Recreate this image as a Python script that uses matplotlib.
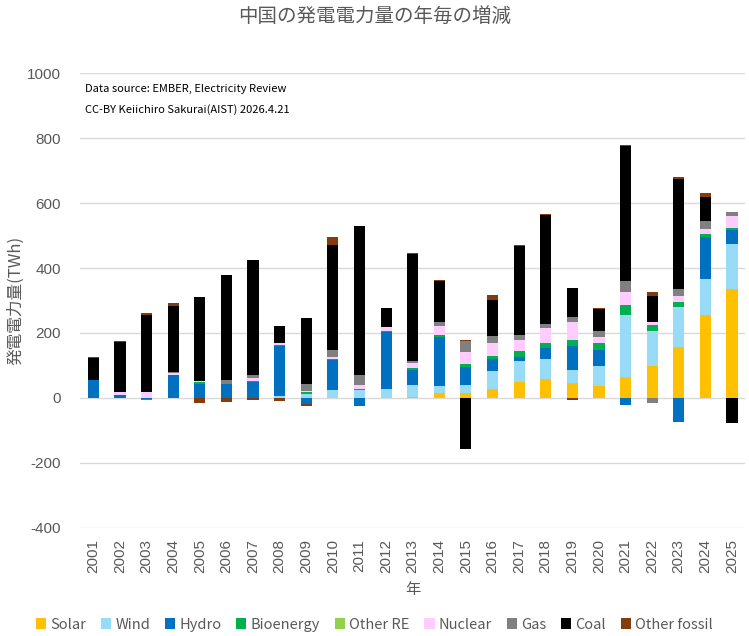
import matplotlib
matplotlib.use("Agg")
import matplotlib.pyplot as plt
import numpy as np

plt.rcParams['font.family'] = ['Noto Sans CJK JP', 'DejaVu Sans']
plt.rcParams['axes.unicode_minus'] = False

years = [str(y) for y in range(2001, 2026)]

# year-on-year change in generation (TWh)
solar     = [0, 0, 0, 0, 0, 0, 0, 0, 0, 0, 0, 0, 4, 16, 15, 28, 48, 58, 46, 37, 65, 98, 157, 255, 335]
wind      = [0, 0, 0, 0, 0, 0, 0, 7, 13, 23, 26, 29, 37, 22, 25, 55, 66, 62, 40, 62, 191, 108, 123, 111, 138]
hydro     = [56, 10, -4, 72, 44, 42, 50, 153, -20, 95, -24, 175, 46, 151, 56, 37, 12, 34, 74, 49, -22, 0, -74, 129, 43]
bioenergy = [0, 0, -3, 0, 4, 2, 3, 4, 6, 3, 3, 3, 6, 6, 8, 9, 18, 15, 18, 22, 31, 18, 15, 9, 6]
other_re  = [0, 0, 0, 0, 0, 0, 0, 0, 0, 0, 0, 0, 0, 0, 0, 0, 0, 0, 0, 0, 0, 0, 0, 0, 0]
nuclear   = [0, 9, 19, 6, 3, 0, 9, 6, 3, 6, 12, 12, 15, 25, 37, 40, 34, 46, 55, 18, 40, 9, 18, 15, 37]
gas       = [0, 0, 0, 3, 2, 12, 9, 0, 22, 22, 31, 0, 6, 15, 34, 22, 15, 12, 15, 18, 34, -15, 22, 25, 12]
coal      = [68, 153, 237, 203, 258, 323, 354, 52, 203, 323, 458, 58, 329, 126, -157, 111, 274, 335, 92, 68, 415, 80, 338, 74, -77]
oth_fossil = [3, 4, 6, 9, -14, -11, -7, -8, -6, 22, -2, 0, 3, 3, 3, 15, 3, 3, -6, 3, 3, 12, 6, 12, 3]

names = ["Solar", "Wind", "Hydro", "Bioenergy", "Other RE", "Nuclear", "Gas", "Coal", "Other fossil"]
series = [solar, wind, hydro, bioenergy, other_re, nuclear, gas, coal, oth_fossil]
colors = ["#FFC000", "#97DBF7", "#0070C0", "#00B050", "#92D050", "#FFCCFF", "#808080", "#000000", "#843C0C"]

fig = plt.figure(figsize=(7.49, 6.36), dpi=100)
ax = fig.add_axes([0.107, 0.170, 0.888, 0.715])

x = np.arange(len(years))
pos_base = np.zeros(len(years))
neg_base = np.zeros(len(years))
for name, vals, c in zip(names, series, colors):
    v = np.array(vals, dtype=float)
    bottom = np.where(v >= 0, pos_base, neg_base)
    ax.bar(x, v, 0.42, bottom=bottom, color=c, label=name, zorder=3)
    pos_base += np.where(v >= 0, v, 0)
    neg_base += np.where(v < 0, v, 0)

grey = "#595959"
ax.set_xlim(-0.5, len(years) - 0.5)
ax.set_ylim(-400, 1000)
ax.set_yticks(range(-400, 1001, 200))
ax.set_xticks(x)
ax.set_xticklabels(years, rotation=90)
ax.tick_params(axis="both", length=0, colors=grey, labelsize=11)
ax.tick_params(axis="x", pad=8)
ax.tick_params(axis="y", pad=14)
for lab in ax.get_xticklabels() + ax.get_yticklabels():
    lab.set_family(["Liberation Sans", "DejaVu Sans"])
ax.grid(axis="y", color="#D9D9D9", lw=1, zorder=0)
for s in ax.spines.values():
    s.set_visible(False)

ax.set_ylabel("発電電力量(TWh)", color=grey, fontsize=12, labelpad=2)
ax.set_xlabel("年", color=grey, fontsize=11, labelpad=6)
fig.suptitle("中国の発電電力量の年毎の増減", color=grey, fontsize=14, y=0.99)

ax.text(0.008, 0.965, "Data source: EMBER, Electricity Review", transform=ax.transAxes,
        fontsize=8, va="center")
ax.text(0.008, 0.920, "CC-BY Keiichiro Sakurai(AIST) 2026.4.21", transform=ax.transAxes,
        fontsize=8, va="center")

leg = fig.legend(loc="center", bbox_to_anchor=(0.5, 0.018), ncol=9, frameon=False,
                 fontsize=10.5, handlelength=0.7, handleheight=0.7, handletextpad=0.3,
                 columnspacing=1.0)
for t in leg.get_texts():
    t.set_color(grey)

fig.savefig("out.png", dpi=100)
